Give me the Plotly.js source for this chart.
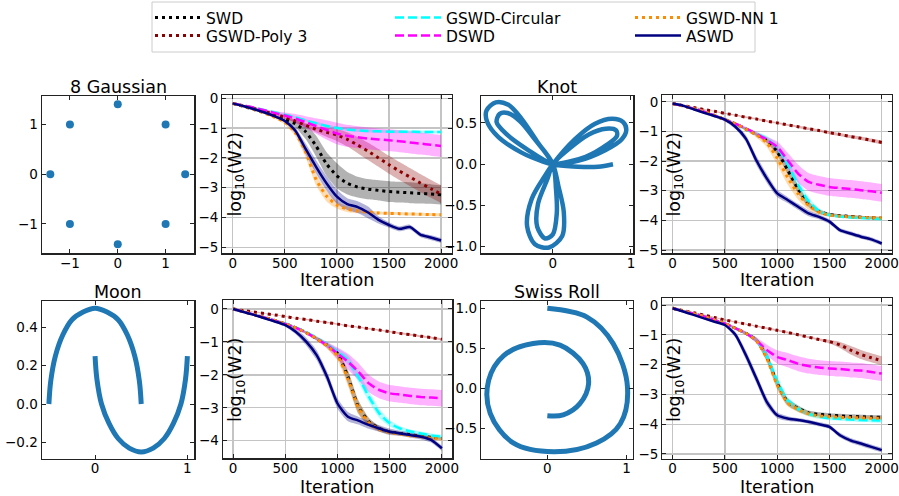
<!DOCTYPE html>
<html><head><meta charset="utf-8">
<script src="https://cdn.plot.ly/plotly-3.0.1.min.js"></script>
<style>html,body{margin:0;padding:0;background:#fff}#chart{width:899px;height:496px}</style>
</head><body><div id="chart"></div><script>
// ---------- data ----------
const iterations = [0,100,200,300,400,500,600,700,800,900,1000,1100,1200,1300,1400,1500,1600,1700,1800,1900,2000];

// 8 Gaussian
const g8_swd      = [-0.17,-0.27,-0.37,-0.48,-0.6,-0.72,-0.85,-1.12,-1.6,-2.2,-2.6,-2.85,-2.98,-3.05,-3.09,-3.13,-3.15,-3.17,-3.19,-3.21,-3.24];
const g8_swd_sd   = [0.02,0.03,0.03,0.04,0.05,0.06,0.12,0.25,0.35,0.4,0.42,0.38,0.35,0.34,0.34,0.35,0.35,0.35,0.34,0.33,0.32];
const g8_poly     = [-0.17,-0.25,-0.34,-0.43,-0.53,-0.63,-0.76,-0.9,-1.04,-1.14,-1.23,-1.38,-1.57,-1.78,-2.0,-2.23,-2.44,-2.64,-2.84,-3.03,-3.22];
const g8_poly_sd  = [0.02,0.02,0.03,0.03,0.03,0.04,0.05,0.07,0.1,0.15,0.2,0.24,0.27,0.29,0.3,0.3,0.3,0.3,0.3,0.3,0.3];
const g8_circ     = [-0.17,-0.24,-0.31,-0.39,-0.47,-0.55,-0.64,-0.74,-0.84,-0.93,-1.0,-1.05,-1.08,-1.1,-1.11,-1.12,-1.12,-1.12,-1.13,-1.13,-1.13];
const g8_circ_sd  = [0.02,0.02,0.02,0.03,0.03,0.03,0.04,0.04,0.05,0.05,0.05,0.05,0.05,0.05,0.05,0.05,0.05,0.05,0.05,0.05,0.05];
const g8_dswd     = [-0.17,-0.24,-0.31,-0.4,-0.49,-0.58,-0.68,-0.8,-0.93,-1.06,-1.18,-1.26,-1.31,-1.35,-1.38,-1.41,-1.44,-1.48,-1.52,-1.56,-1.6];
const g8_dswd_sd  = [0.02,0.03,0.03,0.04,0.06,0.1,0.15,0.2,0.26,0.32,0.36,0.37,0.37,0.37,0.37,0.37,0.37,0.37,0.37,0.37,0.37];
const g8_nn       = [-0.17,-0.26,-0.37,-0.49,-0.63,-0.8,-1.15,-1.8,-2.72,-3.28,-3.58,-3.72,-3.78,-3.82,-3.85,-3.86,-3.87,-3.88,-3.89,-3.9,-3.91];
const g8_nn_sd    = [0.02,0.03,0.03,0.04,0.05,0.08,0.12,0.18,0.2,0.18,0.12,0.1,0.08,0.06,0.05,0.05,0.05,0.05,0.05,0.05,0.05];
const g8_aswd     = [-0.17,-0.26,-0.36,-0.47,-0.6,-0.76,-1.08,-1.7,-2.3,-2.85,-3.3,-3.55,-3.65,-3.83,-4.08,-4.25,-4.38,-4.32,-4.57,-4.67,-4.77];
const g8_aswd_sd  = [0.02,0.02,0.03,0.03,0.04,0.05,0.1,0.18,0.22,0.24,0.24,0.2,0.2,0.2,0.12,0.09,0.08,0.08,0.08,0.08,0.08];

// Knot
const kn_swd      = [-0.06,-0.14,-0.23,-0.33,-0.46,-0.6,-0.74,-0.92,-1.1,-1.3,-1.68,-2.3,-2.95,-3.45,-3.7,-3.8,-3.84,-3.87,-3.89,-3.91,-3.93];
const kn_swd_sd   = [0.01,0.02,0.02,0.02,0.03,0.03,0.03,0.04,0.05,0.08,0.12,0.14,0.14,0.1,0.08,0.06,0.05,0.05,0.05,0.05,0.05];
const kn_poly     = [-0.06,-0.13,-0.19,-0.26,-0.32,-0.39,-0.45,-0.52,-0.58,-0.65,-0.71,-0.78,-0.84,-0.91,-0.97,-1.04,-1.1,-1.17,-1.23,-1.3,-1.37];
const kn_poly_sd  = [0.01,0.01,0.02,0.02,0.02,0.02,0.02,0.03,0.03,0.03,0.03,0.03,0.04,0.04,0.04,0.05,0.05,0.05,0.06,0.06,0.06];
const kn_circ     = [-0.06,-0.14,-0.23,-0.33,-0.46,-0.6,-0.74,-0.92,-1.08,-1.25,-1.55,-2.1,-2.8,-3.35,-3.68,-3.82,-3.87,-3.9,-3.92,-3.94,-3.95];
const kn_circ_sd  = [0.01,0.02,0.02,0.02,0.03,0.03,0.04,0.05,0.07,0.1,0.14,0.16,0.16,0.12,0.08,0.06,0.05,0.05,0.05,0.05,0.05];
const kn_dswd     = [-0.06,-0.14,-0.23,-0.33,-0.46,-0.6,-0.74,-0.9,-1.08,-1.28,-1.52,-1.97,-2.42,-2.7,-2.8,-2.87,-2.91,-2.94,-2.98,-3.02,-3.07];
const kn_dswd_sd  = [0.01,0.02,0.02,0.02,0.03,0.03,0.04,0.05,0.07,0.1,0.18,0.25,0.3,0.3,0.3,0.3,0.3,0.3,0.3,0.3,0.3];
const kn_nn       = [-0.06,-0.14,-0.23,-0.33,-0.46,-0.6,-0.74,-0.92,-1.12,-1.38,-1.9,-2.55,-3.1,-3.5,-3.72,-3.82,-3.86,-3.88,-3.9,-3.91,-3.92];
const kn_nn_sd    = [0.01,0.02,0.02,0.02,0.03,0.03,0.04,0.05,0.08,0.14,0.22,0.24,0.2,0.14,0.08,0.06,0.05,0.05,0.05,0.05,0.05];
const kn_aswd     = [-0.06,-0.13,-0.25,-0.37,-0.48,-0.6,-0.84,-1.24,-1.97,-2.58,-3.09,-3.31,-3.54,-3.76,-3.88,-4.04,-4.33,-4.44,-4.55,-4.64,-4.78];
const kn_aswd_sd  = [0.01,0.02,0.03,0.04,0.05,0.06,0.08,0.12,0.15,0.15,0.12,0.1,0.1,0.1,0.08,0.08,0.07,0.07,0.07,0.07,0.07];

// Moon
const mo_swd      = [0,-0.08,-0.17,-0.26,-0.35,-0.45,-0.57,-0.72,-0.9,-1.1,-1.35,-2.06,-2.97,-3.42,-3.63,-3.73,-3.78,-3.82,-3.86,-3.9,-3.93];
const mo_swd_sd   = [0.01,0.01,0.02,0.02,0.02,0.03,0.03,0.04,0.05,0.06,0.1,0.2,0.2,0.12,0.08,0.06,0.05,0.05,0.05,0.05,0.05];
const mo_poly     = [0,-0.05,-0.09,-0.14,-0.18,-0.23,-0.28,-0.32,-0.37,-0.41,-0.46,-0.51,-0.55,-0.6,-0.64,-0.69,-0.74,-0.78,-0.83,-0.87,-0.92];
const mo_poly_sd  = [0.01,0.01,0.01,0.01,0.01,0.01,0.01,0.02,0.02,0.02,0.02,0.02,0.02,0.02,0.02,0.02,0.03,0.03,0.03,0.03,0.03];
const mo_circ     = [0,-0.08,-0.17,-0.26,-0.35,-0.44,-0.56,-0.7,-0.88,-1.08,-1.3,-1.55,-2.06,-2.66,-3.17,-3.47,-3.63,-3.72,-3.78,-3.84,-3.88];
const mo_circ_sd  = [0.01,0.01,0.02,0.02,0.02,0.03,0.03,0.04,0.06,0.08,0.1,0.14,0.16,0.16,0.14,0.1,0.07,0.06,0.06,0.06,0.06];
const mo_dswd     = [0,-0.08,-0.17,-0.26,-0.35,-0.45,-0.57,-0.72,-0.9,-1.1,-1.35,-1.6,-1.9,-2.26,-2.46,-2.56,-2.6,-2.64,-2.67,-2.69,-2.71];
const mo_dswd_sd  = [0.01,0.01,0.02,0.02,0.02,0.03,0.03,0.04,0.06,0.1,0.18,0.24,0.26,0.26,0.25,0.25,0.25,0.25,0.25,0.25,0.25];
const mo_nn       = [0,-0.08,-0.17,-0.26,-0.35,-0.45,-0.57,-0.72,-0.9,-1.12,-1.42,-2.12,-3.0,-3.45,-3.65,-3.75,-3.8,-3.85,-3.88,-3.92,-3.95];
const mo_nn_sd    = [0.01,0.01,0.02,0.02,0.02,0.03,0.03,0.04,0.05,0.08,0.14,0.22,0.2,0.12,0.08,0.06,0.05,0.05,0.05,0.05,0.05];
const mo_aswd     = [0,-0.09,-0.18,-0.28,-0.38,-0.49,-0.69,-0.99,-1.4,-2.06,-2.87,-3.27,-3.39,-3.52,-3.63,-3.73,-3.78,-3.83,-3.88,-3.98,-4.23];
const mo_aswd_sd  = [0.01,0.02,0.03,0.03,0.04,0.05,0.08,0.12,0.15,0.16,0.16,0.14,0.12,0.12,0.1,0.1,0.08,0.08,0.08,0.08,0.08];

// Swiss Roll
const sw_swd      = [-0.11,-0.2,-0.29,-0.38,-0.5,-0.62,-0.78,-0.95,-1.18,-1.74,-2.63,-3.25,-3.47,-3.62,-3.67,-3.7,-3.72,-3.74,-3.75,-3.76,-3.77];
const sw_swd_sd   = [0.01,0.02,0.02,0.02,0.03,0.03,0.04,0.05,0.08,0.14,0.16,0.12,0.1,0.08,0.07,0.07,0.07,0.07,0.07,0.07,0.07];
const sw_poly     = [-0.11,-0.19,-0.26,-0.34,-0.42,-0.5,-0.57,-0.64,-0.71,-0.78,-0.85,-0.92,-1.0,-1.08,-1.16,-1.23,-1.34,-1.51,-1.66,-1.77,-1.87];
const sw_poly_sd  = [0.01,0.01,0.02,0.02,0.02,0.02,0.02,0.02,0.02,0.03,0.03,0.03,0.03,0.03,0.04,0.06,0.1,0.14,0.15,0.15,0.15];
const sw_circ     = [-0.11,-0.2,-0.29,-0.38,-0.5,-0.62,-0.78,-0.95,-1.17,-1.7,-2.55,-3.2,-3.48,-3.65,-3.75,-3.8,-3.82,-3.84,-3.86,-3.87,-3.88];
const sw_circ_sd  = [0.01,0.02,0.02,0.02,0.03,0.03,0.04,0.05,0.08,0.14,0.16,0.12,0.1,0.08,0.07,0.07,0.07,0.07,0.07,0.07,0.07];
const sw_dswd     = [-0.11,-0.2,-0.29,-0.38,-0.5,-0.62,-0.78,-0.95,-1.18,-1.51,-1.74,-1.85,-1.97,-2.05,-2.1,-2.13,-2.15,-2.18,-2.2,-2.25,-2.3];
const sw_dswd_sd  = [0.01,0.02,0.02,0.02,0.03,0.03,0.04,0.06,0.1,0.18,0.22,0.24,0.25,0.25,0.25,0.25,0.25,0.25,0.25,0.25,0.25];
const sw_nn       = [-0.11,-0.2,-0.29,-0.38,-0.5,-0.62,-0.78,-0.95,-1.19,-1.78,-2.68,-3.28,-3.5,-3.65,-3.72,-3.75,-3.77,-3.78,-3.79,-3.8,-3.8];
const sw_nn_sd    = [0.01,0.02,0.02,0.02,0.03,0.03,0.04,0.05,0.08,0.14,0.16,0.12,0.1,0.08,0.07,0.07,0.07,0.07,0.07,0.07,0.07];
const sw_aswd     = [-0.11,-0.22,-0.33,-0.45,-0.56,-0.67,-1.0,-1.68,-2.46,-3.25,-3.7,-3.81,-3.86,-3.92,-4.0,-4.09,-4.37,-4.54,-4.65,-4.76,-4.87];
const sw_aswd_sd  = [0.01,0.02,0.02,0.03,0.03,0.04,0.1,0.15,0.16,0.15,0.1,0.08,0.07,0.07,0.07,0.07,0.08,0.08,0.08,0.08,0.08];

// Sample datasets
const gauss_x = [1, 0, -1, -1.41, -1, 0, 1, 1.41];
const gauss_y = [1, 1.41, 1, 0, -1, -1.41, -1, 0];

const knot_x = [0, 0.32,0.67,0.88,0.94,0.90,0.76,0.54,0.28, 0, -0.10,-0.27,-0.33,-0.23,-0.05,0.12,0.14,0.07, 0, -0.19,-0.40,-0.57,-0.73,-0.85,-0.84,-0.70,-0.40,-0.15, 0,
                0.42,0.70,0.82,0.81,0.68,0.46,0.20, 0, -0.07,-0.19,-0.20,-0.10,0.0,0.05,0.04, 0, -0.23,-0.42,-0.58,-0.68,-0.72,-0.60,-0.33, 0, 0.32,0.58,0.77];
const knot_y = [0, 0.04,0.17,0.30,0.41,0.51,0.55,0.49,0.30, 0, -0.14,-0.42,-0.75,-0.97,-1.01,-0.87,-0.58,-0.26, 0, 0.26,0.55,0.72,0.75,0.65,0.51,0.33,0.14,0.04, 0,
                0.09,0.24,0.34,0.41,0.43,0.36,0.18, 0, -0.18,-0.48,-0.76,-0.90,-0.85,-0.60,-0.30, 0, 0.30,0.52,0.62,0.61,0.51,0.37,0.18, 0, -0.03,-0.03,0.0];

const moonA_x = [-0.5,-0.48,-0.43,-0.35,-0.25,-0.13,0,0.13,0.25,0.35,0.43,0.48,0.5];
const moonA_y = [0.0,0.12,0.25,0.36,0.44,0.48,0.5,0.48,0.44,0.36,0.25,0.12,0.0];
const moonB_x = [0,0.02,0.07,0.15,0.25,0.37,0.5,0.63,0.75,0.85,0.93,0.98,1.0];
const moonB_y = [0.25,0.13,0.0,-0.1,-0.18,-0.23,-0.25,-0.23,-0.18,-0.1,0.0,0.13,0.25];

const swiss_x = [0.0,0.5,0.83,1.01,0.92,0.62,0.08,-0.43,-0.72,-0.74,-0.55,-0.18,0.16,0.45,0.52,0.41,0.2,0.0];
const swiss_y = [1.0,0.89,0.56,0.02,-0.44,-0.68,-0.79,-0.68,-0.31,0.1,0.41,0.56,0.54,0.31,0.06,-0.19,-0.33,-0.34];

// ---------- build ----------
const W = 899, H = 496;
const FONT = 'DejaVu Sans';
const dx = (a,b) => [a/W, b/W];
const dy = (top,bot) => [1-bot/H, 1-top/H];

const methods = [
  {key:'swd',  name:'SWD',           color:'#000000', fill:'rgba(0,0,0,0.3)',      dash:'3px,4px', width:3,   legend:'legend',  rank:1},
  {key:'poly', name:'GSWD-Poly 3',   color:'#8b0000', fill:'rgba(139,0,0,0.3)',    dash:'3px,4px', width:3,   legend:'legend2', rank:1},
  {key:'circ', name:'GSWD-Circular', color:'#00ffff', fill:'rgba(0,255,255,0.3)',  dash:'9px,4px', width:2.5, legend:'legend',  rank:2},
  {key:'dswd', name:'DSWD',          color:'#ff00ff', fill:'rgba(255,0,255,0.3)',  dash:'9px,4px', width:2.5, legend:'legend2', rank:2},
  {key:'nn',   name:'GSWD-NN 1',     color:'#ff8c00', fill:'rgba(255,140,0,0.3)',  dash:'3px,4px', width:3,   legend:'legend',  rank:3},
  {key:'aswd', name:'ASWD',          color:'#000080', fill:'rgba(0,0,128,0.3)',    dash:'solid',   width:2.5, legend:'legend2', rank:3}
];

const curvePanels = [
  {ax:'2', showLegend:true,  data:{swd:[g8_swd,g8_swd_sd], poly:[g8_poly,g8_poly_sd], circ:[g8_circ,g8_circ_sd], dswd:[g8_dswd,g8_dswd_sd], nn:[g8_nn,g8_nn_sd], aswd:[g8_aswd,g8_aswd_sd]}},
  {ax:'4', showLegend:false, data:{swd:[kn_swd,kn_swd_sd], poly:[kn_poly,kn_poly_sd], circ:[kn_circ,kn_circ_sd], dswd:[kn_dswd,kn_dswd_sd], nn:[kn_nn,kn_nn_sd], aswd:[kn_aswd,kn_aswd_sd]}},
  {ax:'6', showLegend:false, data:{swd:[mo_swd,mo_swd_sd], poly:[mo_poly,mo_poly_sd], circ:[mo_circ,mo_circ_sd], dswd:[mo_dswd,mo_dswd_sd], nn:[mo_nn,mo_nn_sd], aswd:[mo_aswd,mo_aswd_sd]}},
  {ax:'8', showLegend:false, data:{swd:[sw_swd,sw_swd_sd], poly:[sw_poly,sw_poly_sd], circ:[sw_circ,sw_circ_sd], dswd:[sw_dswd,sw_dswd_sd], nn:[sw_nn,sw_nn_sd], aswd:[sw_aswd,sw_aswd_sd]}}
];

const traces = [];
curvePanels.forEach(p => {
  const xa = 'x'+p.ax, ya = 'y'+p.ax;
  methods.forEach(m => {
    const [mean, sd] = p.data[m.key];
    traces.push({x:iterations, y:mean.map((v,i)=>v+sd[i]), xaxis:xa, yaxis:ya, mode:'lines',
      line:{width:0, color:m.fill, shape:'spline', smoothing:0.6}, showlegend:false, hoverinfo:'skip'});
    traces.push({x:iterations, y:mean.map((v,i)=>v-sd[i]), xaxis:xa, yaxis:ya, mode:'lines', fill:'tonexty',
      fillcolor:m.fill, line:{width:0, color:m.fill, shape:'spline', smoothing:0.6}, showlegend:false, hoverinfo:'skip'});
  });
  methods.forEach(m => {
    const [mean] = p.data[m.key];
    traces.push({x:iterations, y:mean, xaxis:xa, yaxis:ya, mode:'lines', name:m.name,
      line:{color:m.color, width:m.width, dash:m.dash, shape:'spline', smoothing:0.6},
      showlegend:p.showLegend, legend:m.legend, legendrank:m.rank});
  });
});

const blue = '#1f77b4';
traces.push({x:gauss_x, y:gauss_y, xaxis:'x', yaxis:'y', mode:'markers', marker:{color:blue, size:8}, showlegend:false});
traces.push({x:knot_x, y:knot_y, xaxis:'x3', yaxis:'y3', mode:'lines', line:{color:blue, width:4.5, shape:'spline', smoothing:0.9}, showlegend:false});
traces.push({x:moonA_x, y:moonA_y, xaxis:'x5', yaxis:'y5', mode:'lines', line:{color:blue, width:5, shape:'spline'}, showlegend:false});
traces.push({x:moonB_x, y:moonB_y, xaxis:'x5', yaxis:'y5', mode:'lines', line:{color:blue, width:5, shape:'spline'}, showlegend:false});
traces.push({x:swiss_x, y:swiss_y, xaxis:'x7', yaxis:'y7', mode:'lines', line:{color:blue, width:5, shape:'spline'}, showlegend:false});

const base = {showline:true, linecolor:'#222', linewidth:1.2, mirror:'ticks', ticks:'inside', ticklen:4, tickcolor:'#222',
  zeroline:false, showgrid:false, fixedrange:true, ticklabeloverflow:'allow', tickfont:{family:FONT, size:13.5, color:'#000'}};
const xb = Object.assign({}, base, {ticklabelstandoff:-3});
const grid = {showgrid:true, gridcolor:'#c4c4c4', gridwidth:1.3};

const layout = {
  width:W, height:H, margin:{l:0,r:0,t:0,b:0}, paper_bgcolor:'#fff', plot_bgcolor:'#fff',
  font:{family:FONT, color:'#000'},
  xaxis:  Object.assign({}, xb, {domain:dx(41.7,194.3), anchor:'y', range:[-1.59,1.60], tickvals:[-1,0,1]}),
  yaxis:  Object.assign({}, base, {domain:dy(95.7,253.3), anchor:'x', range:[-1.59,1.58], tickvals:[-1,0,1]}),
  xaxis2: Object.assign({}, xb, grid, {domain:dx(222.3,451.5), anchor:'y2', range:[-100,2100], tickvals:[0,500,1000,1500,2000]}),
  yaxis2: Object.assign({}, base, grid, {domain:dy(95,253.3), anchor:'x2', range:[-5.2,0.11], dtick:1}),
  xaxis3: Object.assign({}, xb, {domain:dx(481,633.3), anchor:'y3', range:[-0.92,1.03], tickvals:[0,1]}),
  yaxis3: Object.assign({}, base, {domain:dy(95.7,253.3), anchor:'x3', range:[-1.08,0.83], tickvals:[-1,-0.5,0,0.5], tickformat:'.1f'}),
  xaxis4: Object.assign({}, xb, grid, {domain:dx(662.2,892.2), anchor:'y4', range:[-100,2100], tickvals:[0,500,1000,1500,2000]}),
  yaxis4: Object.assign({}, base, grid, {domain:dy(95,253.3), anchor:'x4', range:[-5.11,0.23], dtick:1}),
  xaxis5: Object.assign({}, xb, {domain:dx(41.7,194.3), anchor:'y5', range:[-0.578,1.075], tickvals:[0,1]}),
  yaxis5: Object.assign({}, base, {domain:dy(300.7,459), anchor:'x5', range:[-0.287,0.539], tickvals:[-0.2,0,0.2,0.4], tickformat:'.1f'}),
  xaxis6: Object.assign({}, xb, grid, {domain:dx(222.7,452.3), anchor:'y6', range:[-100,2100], tickvals:[0,500,1000,1500,2000]}),
  yaxis6: Object.assign({}, base, grid, {domain:dy(300,458.3), anchor:'x6', range:[-4.534,0.273], dtick:1}),
  xaxis7: Object.assign({}, xb, {domain:dx(481,632.7), anchor:'y7', range:[-0.836,1.076], tickvals:[0,1]}),
  yaxis7: Object.assign({}, base, {domain:dy(300.7,459), anchor:'x7', range:[-0.88,1.095], tickvals:[-0.5,0,0.5,1], tickformat:'.1f'}),
  xaxis8: Object.assign({}, xb, grid, {domain:dx(662.2,892.2), anchor:'y8', range:[-100,2100], tickvals:[0,500,1000,1500,2000]}),
  yaxis8: Object.assign({}, base, grid, {domain:dy(298.3,459), anchor:'x8', range:[-5.168,0.225], dtick:1}),
  legend:  {orientation:'h', x:150/W, xanchor:'left', y:1-1/H, yanchor:'top', bgcolor:'rgba(0,0,0,0)', borderwidth:0,
            font:{family:FONT, size:15.5, color:'#000'}, entrywidth:179, entrywidthmode:'pixels', itemwidth:46, traceorder:'normal'},
  legend2: {orientation:'h', x:150/W, xanchor:'left', y:1-19/H, yanchor:'top', bgcolor:'rgba(0,0,0,0)', borderwidth:0,
            font:{family:FONT, size:15.5, color:'#000'}, entrywidth:179, entrywidthmode:'pixels', itemwidth:46, traceorder:'normal'},
  shapes: [{type:'rect', xref:'paper', yref:'paper', x0:152/W, x1:755/W, y0:1-52/H, y1:1-2/H, line:{color:'#cccccc', width:1}}],
  annotations: []
};

const ann = (text, xpx, ypx, size, angle) => ({text, x:xpx/W, y:1-ypx/H, xref:'paper', yref:'paper', showarrow:false,
  xanchor:'center', yanchor:'middle', textangle:angle||0, font:{family:FONT, size, color:'#000'}, borderpad:0});
layout.annotations.push(ann('8 Gaussian', 118, 87, 17.5));
layout.annotations.push(ann('Knot', 557, 87, 17.5));
layout.annotations.push(ann('Moon', 118, 292, 17.5));
layout.annotations.push(ann('Swiss Roll', 557, 292, 17.5));
[[337,280],[777,280],[337,486.5],[777,486.5]].forEach(([x,y]) => layout.annotations.push(ann('Iteration', x, y, 17.5)));
[[236,174.5],[675,174.5],[236,380],[675,380]].forEach(([x,y]) => layout.annotations.push(ann('log<sub>10</sub>(W2)', x, y, 17.5, -90)));

Plotly.newPlot('chart', traces, layout, {displayModeBar:false, staticPlot:true});
</script></body></html>
